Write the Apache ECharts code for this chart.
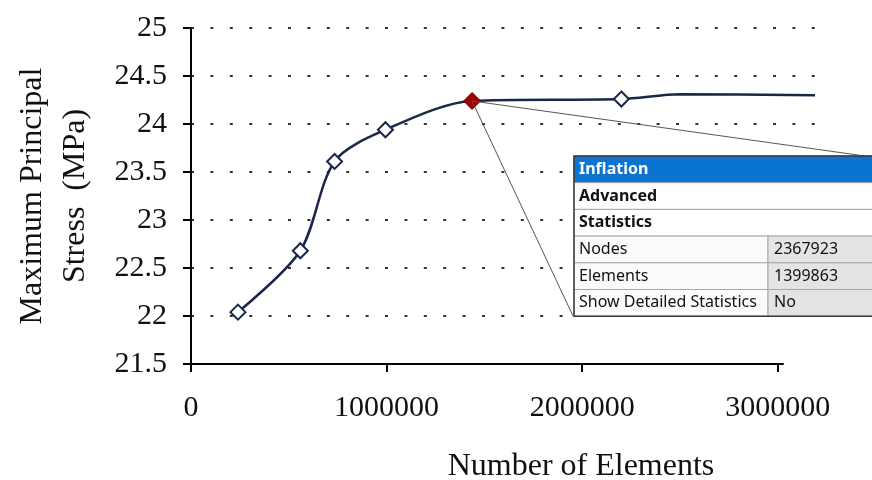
<!DOCTYPE html>
<html>
<head>
<meta charset="utf-8">
<script src="https://cdn.jsdelivr.net/npm/echarts@6/dist/echarts.min.js"></script>
<style>
  html, body { margin: 0; padding: 0; background: #fff; }
  #main { width: 872px; height: 480px; }
</style>
</head>
<body>
<div id="main"></div>
<script>
// 网格无关性数据：单元数 / 最大主应力
let elements = [240000, 559000, 734000, 994000, 1437000, 2200000];
let stress = [22.04, 22.68, 23.61, 23.94, 24.24, 24.26];
let highlightIndex = 4; // 选中的网格（红色点）
// 曲线尾部（无标记点）
let tailElements = [2500000, 3190000];
let tailStress = [24.31, 24.30];
// 坐标轴刻度
let xTicks = [0, 1000000, 2000000, 3000000];
let xAxisLineEnd = 3030000;
// 右侧网格详情表
let tableHead = ["Inflation", "Advanced", "Statistics"];
let tableRows = [["Nodes", "2367923"], ["Elements", "1399863"], ["Show Detailed Statistics", "No"]];

let serif = "'Liberation Serif', 'Times New Roman', serif";
let sans = "'Noto Sans', 'Open Sans', sans-serif";

let myChart = echarts.init(document.getElementById("main"));

// 组装折线数据
let lineData = [];
for (let i = 0; i < elements.length; i++) {
    let item = { value: [elements[i], stress[i]] };
    if (i === highlightIndex) {
        item.symbolSize = 17;
        item.itemStyle = { color: "#a30000", borderColor: "#6a0000", borderWidth: 1 };
    }
    lineData.push(item);
}
for (let i = 0; i < tailElements.length; i++) {
    lineData.push({ value: [tailElements[i], tailStress[i]], symbol: "none" });
}

// 表格图形
let rowH = 26.7, tLeft = 574, tTop = 156, colX = 768, tRight = 900;
let graphics = [];
tableHead.forEach(function (t, i) {
    let y = tTop + i * rowH;
    graphics.push({
        type: "rect", z: 100, shape: { x: tLeft, y: y, width: tRight - tLeft, height: rowH },
        style: { fill: i === 0 ? "#0a74d0" : "#ffffff", stroke: i === 0 ? "#0a74d0" : "#a6a6a6", lineWidth: 1 }
    });
    graphics.push({
        type: "text", z: 101, x: tLeft + 5, y: y + rowH / 2,
        style: { text: t, fill: i === 0 ? "#ffffff" : "#111111", font: "bold 16px " + sans, verticalAlign: "middle" }
    });
});
tableRows.forEach(function (r, j) {
    let y = tTop + (tableHead.length + j) * rowH;
    graphics.push({
        type: "rect", z: 100, shape: { x: tLeft, y: y, width: colX - tLeft, height: rowH },
        style: { fill: "#fbfbfb", stroke: "#a6a6a6", lineWidth: 1 }
    });
    graphics.push({
        type: "rect", z: 100, shape: { x: colX, y: y, width: tRight - colX, height: rowH },
        style: { fill: "#e4e4e4", stroke: "#a6a6a6", lineWidth: 1 }
    });
    graphics.push({
        type: "text", z: 101, x: tLeft + 5, y: y + rowH / 2,
        style: { text: r[0], fill: "#111111", font: "16px " + sans, verticalAlign: "middle" }
    });
    graphics.push({
        type: "text", z: 101, x: colX + 6, y: y + rowH / 2,
        style: { text: r[1], fill: "#111111", font: "16px " + sans, verticalAlign: "middle" }
    });
});
graphics.push({
    type: "rect", z: 102, shape: { x: tLeft, y: tTop, width: tRight - tLeft, height: rowH * 6 },
    style: { fill: "none", stroke: "#3a3a3a", lineWidth: 1.5 }
});

let option = {
    backgroundColor: "#ffffff",
    animation: false,
    grid: { left: 191, top: 28, right: 57, bottom: 116, containLabel: false, outerBoundsMode: "none" },
    xAxis: {
        type: "value",
        min: 0,
        max: 3190000,
        name: "Number of Elements",
        nameLocation: "middle",
        nameGap: 87,
        nameTextStyle: { fontFamily: serif, fontSize: 32, color: "#111", padding: [0, 0, 0, 156] },
        axisLine: { show: false },
        axisTick: { show: true, length: 8, customValues: xTicks, lineStyle: { color: "#000", width: 2 } },
        axisLabel: {
            customValues: xTicks, fontFamily: serif, fontSize: 30, color: "#111", margin: 29,
            formatter: function (v) { return String(v); }
        },
        splitLine: { show: false }
    },
    yAxis: {
        type: "value",
        min: 21.5,
        max: 25,
        interval: 0.5,
        name: "Maximum Principal\nStress  (MPa)",
        nameLocation: "middle",
        nameGap: 94,
        nameTextStyle: { fontFamily: serif, fontSize: 32, lineHeight: 43, color: "#111" },
        axisLine: { show: true, lineStyle: { color: "#000", width: 2 } },
        axisTick: { show: true, length: 8, lineStyle: { color: "#000", width: 2 } },
        axisLabel: { fontFamily: serif, fontSize: 30, color: "#111", margin: 24 },
        splitLine: { show: true, showMinLine: false, lineStyle: { color: "#333", width: 2, type: [3, 16.4] } }
    },
    graphic: graphics,
    series: [{
        type: "line",
        data: lineData,
        smooth: 0.3,
        clip: false,
        symbol: "diamond",
        symbolSize: 15,
        showAllSymbol: true,
        z: 3,
        lineStyle: { color: "#1b2748", width: 2.5 },
        itemStyle: { color: "#ffffff", borderColor: "#1b2748", borderWidth: 2 },
        markLine: {
            silent: true,
            symbol: "none",
            label: { show: false },
            animation: false,
            data: [
                [{ coord: [0, 21.5], lineStyle: { color: "#000", width: 2, type: "solid" } }, { coord: [xAxisLineEnd, 21.5] }],
                [{ coord: [elements[highlightIndex], stress[highlightIndex]], lineStyle: { color: "#555", width: 1, type: "solid" } }, { x: 573, y: 316 }],
                [{ coord: [elements[highlightIndex], stress[highlightIndex]], lineStyle: { color: "#555", width: 1, type: "solid" } }, { x: 872, y: 157 }]
            ]
        }
    }]
};

myChart.setOption(option);
</script>
</body>
</html>
